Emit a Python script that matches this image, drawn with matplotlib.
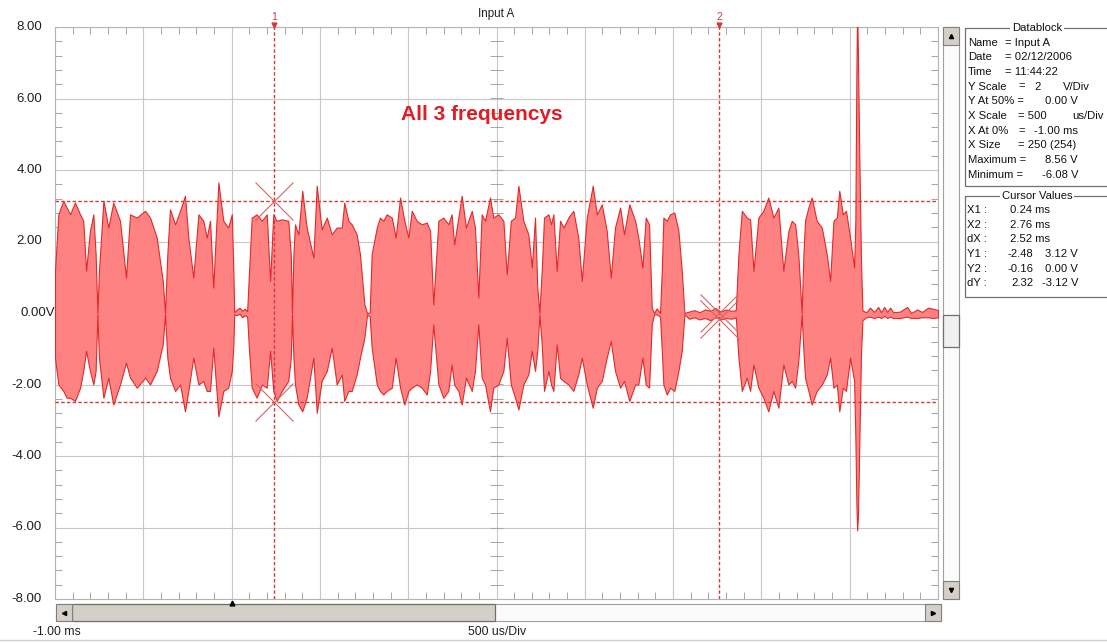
import matplotlib
matplotlib.use('Agg')
import matplotlib.pyplot as plt
from matplotlib.patches import Rectangle
from matplotlib.ticker import MultipleLocator
import numpy as np

plt.rcParams['font.family'] = ['Liberation Sans', 'DejaVu Sans']

# ── 파형 포락선 (ms, V) : 상단/하단 ─────────────────────────────
wave_t = [
    # burst 1
    -1.000, -0.981, -0.953, -0.934, -0.915, -0.887, -0.858, -0.840, -0.824, -0.802,
    -0.783, -0.770, -0.760, -0.751, -0.726, -0.698, -0.670, -0.632, -0.598, -0.575,
    -0.537, -0.490, -0.462, -0.424, -0.390, -0.377, -0.364, -0.349, -0.320, -0.292,
    -0.264, -0.245, -0.217, -0.188, -0.160, -0.141, -0.122, -0.104, -0.075, -0.047,
    -0.019, 0.001, 0.010, 0.015,
    # quiet 1
    0.030, 0.045, 0.060, 0.075, 0.088,
    # burst 2
    0.099, 0.114, 0.142, 0.171, 0.199, 0.218, 0.236, 0.255, 0.284, 0.321,
    0.335, 0.342, 0.350, 0.359, 0.378, 0.400, 0.425, 0.463, 0.482, 0.510,
    0.539, 0.567, 0.595, 0.624, 0.638, 0.661, 0.680, 0.708, 0.727, 0.752,
    0.767, 0.782, 0.793, 0.822, 0.840, 0.859, 0.878, 0.907, 0.929, 0.954,
    0.978, 1.001, 1.020, 1.048, 1.077, 1.105, 1.124, 1.142, 1.171, 1.199,
    # burst 3
    1.227, 1.246, 1.260, 1.284, 1.303, 1.327, 1.360, 1.378, 1.397, 1.416,
    1.435, 1.463, 1.482, 1.510, 1.539, 1.558, 1.581, 1.605, 1.624, 1.652,
    1.680, 1.700, 1.718, 1.731, 1.743, 1.756, 1.769, 1.794, 1.809, 1.822,
    1.841, 1.860, 1.879, 1.907, 1.935, 1.963, 1.983, 2.011, 2.045, 2.068,
    2.096, 2.124, 2.147, 2.171, 2.200, 2.222, 2.252, 2.285,
    # burst 4
    2.303, 2.326, 2.345, 2.364, 2.379, 2.392, 2.407, 2.426, 2.436, 2.445,
    2.464, 2.483, 2.507, 2.530, 2.549, 2.564,
    # quiet 2
    2.590, 2.620, 2.650, 2.680, 2.710, 2.740, 2.770, 2.800, 2.830, 2.855,
    # burst 5
    2.870, 2.889, 2.917, 2.936, 2.955, 2.983, 3.011, 3.039, 3.068, 3.096,
    3.124, 3.153, 3.172, 3.191, 3.209, 3.228, 3.238, 3.247, 3.266, 3.285,
    3.313, 3.342, 3.370, 3.389, 3.408,
    # burst 6 + spike
    3.427, 3.441, 3.461, 3.479, 3.502, 3.525, 3.532, 3.538, 3.542, 3.547,
    3.555, 3.564, 3.572,
    # tail
    3.594, 3.615, 3.638, 3.661, 3.678, 3.695, 3.712, 3.729, 3.746, 3.785,
    3.825, 3.848, 3.882, 3.910, 3.944, 3.972, 4.000,
]
wave_hi = [
    1.18, 2.76, 3.14, 2.95, 2.76, 3.09, 2.76, 2.58, 1.18, 2.30,
    2.76, 1.64, 0.00, 1.18, 3.14, 2.39, 3.09, 2.58, 0.99, 2.76,
    2.67, 2.86, 2.67, 2.11, 0.90, 0.00, 1.64, 2.90, 2.48, 2.86,
    3.28, 2.11, 0.99, 2.76, 2.58, 2.11, 2.58, 0.71, 3.65, 2.58,
    2.39, 2.76, 1.18, 0.02,
    0.10, 0.15, 0.06, 0.12, 0.05,
    1.18, 2.67, 2.76, 2.58, 2.76, 0.90, 2.76, 2.58, 2.62, 2.58,
    1.64, 0.00, 1.64, 2.48, 2.20, 3.42, 2.39, 1.55, 3.56, 2.34,
    2.67, 2.20, 2.39, 2.39, 3.09, 2.58, 2.48, 2.20, 1.64, 0.24,
    0.00, 0.02, 1.64, 2.39, 2.67, 2.58, 2.76, 2.67, 2.11, 3.23,
    2.58, 2.11, 2.86, 2.58, 2.48, 2.53, 2.30, 0.24, 2.58, 2.67,
    2.48, 2.76, 1.92, 2.67, 3.28, 2.39, 2.86, 2.39, 0.43, 2.76,
    2.58, 3.23, 2.67, 2.76, 2.58, 1.08, 2.58, 2.67, 3.56, 2.58,
    2.20, 1.27, 2.67, 0.71, 0.00, 1.18, 2.67, 2.76, 2.48, 2.76,
    1.18, 2.58, 2.39, 2.67, 2.86, 2.11, 0.90, 2.67, 3.56, 2.76,
    3.04, 2.30, 0.99, 2.39, 2.95, 2.20, 3.04, 2.58,
    2.11, 1.27, 2.67, 2.48, 0.15, 0.00, 0.13, 0.00, 1.18, 2.67,
    2.58, 2.76, 2.81, 2.30, 1.18, 0.00,
    0.04, 0.08, 0.02, 0.10, 0.06, 0.14, 0.04, 0.10, 0.06, 0.08,
    1.64, 2.86, 2.67, 2.62, 1.18, 2.67, 2.86, 3.23, 2.67, 2.95,
    1.18, 2.30, 2.58, 2.48, 1.64, 0.00, 1.64, 2.58, 2.95, 3.23,
    2.58, 2.39, 1.64, 0.90, 2.58,
    2.67, 3.42, 2.76, 2.86, 2.11, 1.27, 2.58, 6.78, 8.56, 7.06,
    4.17, 1.46, 0.07,
    0.02, 0.15, 0.03, 0.17, 0.02, 0.17, 0.03, 0.15, 0.02, 0.04,
    0.17, 0.00, 0.10, 0.03, 0.15, 0.12, 0.08,
]
wave_lo = [
    -1.25, -2.00, -2.18, -2.37, -2.37, -2.46, -2.09, -1.62, -1.06, -1.62,
    -2.00, -1.62, -0.04, -1.25, -2.37, -1.81, -2.56, -2.00, -1.39, -1.81,
    -2.09, -1.81, -2.00, -1.62, -0.88, -0.04, -1.25, -1.81, -2.18, -2.00,
    -2.75, -2.18, -1.25, -2.00, -1.90, -2.18, -2.18, -0.97, -2.89, -2.18,
    -2.09, -1.62, -0.88, -0.04,
    -0.06, -0.02, -0.12, -0.06, -0.10,
    -1.06, -2.09, -2.37, -2.00, -2.09, -1.06, -2.18, -2.46, -2.18, -1.90,
    -1.25, -0.04, -1.25, -2.00, -2.56, -2.75, -2.37, -1.25, -2.79, -1.90,
    -1.62, -0.97, -2.00, -1.72, -2.46, -2.18, -2.18, -1.72, -1.25, -0.69,
    -0.04, -0.10, -0.97, -2.00, -2.18, -2.28, -2.18, -2.09, -1.25, -2.09,
    -2.56, -2.18, -2.09, -2.00, -2.09, -2.28, -1.62, -0.32, -2.00, -2.37,
    -2.18, -1.44, -2.00, -2.18, -2.56, -1.81, -2.18, -1.62, -0.32, -1.81,
    -2.00, -2.75, -2.09, -2.00, -1.62, -0.69, -2.00, -2.37, -2.70, -2.00,
    -1.72, -1.06, -1.62, -1.06, -0.04, -0.88, -2.18, -1.62, -2.00, -2.18,
    -0.88, -1.81, -1.90, -2.00, -2.18, -1.72, -1.25, -2.00, -2.65, -2.09,
    -1.90, -1.25, -0.78, -1.62, -2.09, -1.90, -2.46, -2.00,
    -2.00, -1.25, -2.00, -2.09, -0.32, -0.04, -0.04, -0.10, -1.06, -2.00,
    -2.28, -2.09, -2.18, -1.62, -1.06, -0.04,
    -0.16, -0.12, -0.18, -0.14, -0.20, -0.12, -0.18, -0.14, -0.16, -0.12,
    -1.25, -2.18, -1.81, -2.18, -1.44, -2.09, -2.37, -2.75, -2.18, -2.65,
    -1.44, -2.00, -1.90, -2.09, -1.34, -0.04, -1.06, -1.81, -2.18, -2.56,
    -2.18, -2.00, -1.72, -1.25, -2.09,
    -2.00, -2.75, -2.09, -2.18, -1.25, -1.90, -3.49, -5.36, -6.08, -5.64,
    -3.49, -1.16, -0.20,
    -0.12, -0.10, -0.14, -0.10, -0.14, -0.08, -0.14, -0.10, -0.14, -0.14,
    -0.10, -0.14, -0.14, -0.12, -0.12, -0.14, -0.12,
]

# ── 커서 ─────────────────────────────────────────────────────────
cursor_x = [0.24, 2.76]          # ms
cursor_y = [3.12, -2.48]         # V
cross_pts = [(0.24, 3.12), (0.24, -2.48), (2.76, 0.00), (2.76, -0.16)]
trigger_t = 0.0

y_ticks = [8, 6, 4, 2, 0, -2, -4, -6, -8]
y_labels = ['8.00', '6.00', '4.00', '2.00', '0.00V', '-2.00', '-4.00', '-6.00', '-8.00']

db_rows = [('Name', '= Input A'), ('Date', '= 02/12/2006'), ('Time', '= 11:44:22')]
cv_x_rows = [('X1 :', '0.24 ms'), ('X2 :', '2.76 ms'), ('dX :', '2.52 ms')]
cv_y_rows = [('Y1 :', '-2.48', '3.12 V'), ('Y2 :', '-0.16', '0.00 V'), ('dY :', '2.32', '-3.12 V')]

assert len(wave_t) == len(wave_hi) == len(wave_lo)

W, H = 1107, 643
fig = plt.figure(figsize=(W / 100, H / 100), dpi=100, facecolor='white')

ui = fig.add_axes([0, 0, 1, 1], zorder=0)
ui.set_xlim(0, W)
ui.set_ylim(H, 0)
ui.axis('off')

PL, PR, PT, PB = 55, 938, 27, 599
ax = fig.add_axes([PL / W, 1 - PB / H, (PR - PL) / W, (PB - PT) / H], zorder=1)
ax.set_xlim(-1, 4)
ax.set_ylim(-8, 8)
ax.xaxis.set_major_locator(MultipleLocator(0.5))
ax.xaxis.set_minor_locator(MultipleLocator(0.1))
ax.yaxis.set_major_locator(MultipleLocator(2))
ax.yaxis.set_minor_locator(MultipleLocator(0.4))
ax.grid(which='major', color='#c8c8c8', lw=0.8, zorder=0)
ax.tick_params(which='both', direction='in', top=True, right=True,
               labelbottom=False, labelleft=False, color='#a8a8a8', width=0.75)
ax.tick_params(which='minor', length=5)
ax.tick_params(which='major', length=0)
for sp in ax.spines.values():
    sp.set_color('#b4b4b4')
    sp.set_linewidth(0.8)
ax.set_axisbelow(True)

# 중앙 세로축 눈금
ymin_ticks = np.arange(-8, 8.01, 0.4)
ax.hlines(ymin_ticks, 1.5 - 0.037, 1.5 + 0.037, color='#a8a8a8', lw=0.75, zorder=1)

# 파형
ax.fill_between(wave_t, wave_lo, wave_hi, facecolor='#ff8282',
                edgecolor='#e02a2a', lw=0.8, zorder=3)

# 커서
cur_col = '#d43a3a'
for cx in cursor_x:
    ax.axvline(cx, color=cur_col, lw=1.0, ls=(0, (2.5, 1.6)), zorder=4)
for cy in cursor_y:
    ax.axhline(cy, color=cur_col, lw=1.0, ls=(0, (2.5, 1.6)), zorder=4)
for px, py in cross_pts:
    ax.plot(px, py, 'x', ms=27, mew=0.8, color='#d86464', zorder=5)
for i, cx in enumerate(cursor_x):
    ax.annotate(str(i + 1), xy=(cx, 1), xycoords=('data', 'axes fraction'),
                xytext=(0, 7), textcoords='offset points', ha='center', va='center',
                color=cur_col, fontsize=7.5, annotation_clip=False)
    ax.plot(cx, 8.06, marker='v', ms=3.5, color=cur_col, clip_on=False, zorder=6)
ax.plot(trigger_t, -8.12, marker='^', ms=3.5, color='black', clip_on=False, zorder=6)

ax.text(1.418, 5.54, 'All 3 frequencys', color='#e31b23', fontsize=15,
        fontweight='bold', ha='center', va='center', zorder=6)

# 축 레이블
for v, lbl in zip(y_ticks, y_labels):
    off = 0 if lbl.endswith('V') else -9.4
    ax.annotate(lbl, xy=(0, v), xycoords=('axes fraction', 'data'),
                xytext=(off, 0), textcoords='offset points', ha='right', va='center',
                fontsize=9.5, color='#202020', annotation_clip=False)
ax.text(0.5, 1.012, 'Input A', transform=ax.transAxes, ha='center', va='bottom',
        fontsize=8.4, color='#202020')

ui.text(33, 632, '-1.00 ms', ha='left', va='center', fontsize=8.8, color='#202020')
ui.text(497, 632, '500 us/Div', ha='center', va='center', fontsize=8.8, color='#202020')

# ── 스크롤바 ─────────────────────────────────────────────────────
face = '#d4d0c8'
edge = '#808080'


def button(x, y, w, h, mk):
    ui.add_patch(Rectangle((x, y), w, h, facecolor=face, edgecolor=edge, lw=0.8))
    ui.plot(x + w / 2, y + h / 2, marker=mk, ms=3, color='black')


ui.add_patch(Rectangle((56, 604), 885, 17, facecolor='#fbfbfb', edgecolor='#a0a0a0', lw=0.8))
ui.add_patch(Rectangle((72, 604), 423, 17, facecolor=face, edgecolor='#707070', lw=0.9))
button(56, 604, 16, 17, '<')
button(925, 604, 16, 17, '>')

ui.add_patch(Rectangle((943, 27), 16, 572, facecolor='#fbfbfb', edgecolor='#a0a0a0', lw=0.8))
ui.add_patch(Rectangle((943, 315), 16, 32, facecolor='#f0f0f0', edgecolor='#707070', lw=0.9))
button(943, 27, 16, 18, '^')
button(943, 581, 16, 18, 'v')

ui.plot([0, W], [640, 640], color='#d0d0d0', lw=1.0)

# ── Datablock / Cursor Values 패널 ───────────────────────────────
fs = 8.1
tc = '#101010'
ui.add_patch(Rectangle((965, 28), 160, 158, facecolor='none', edgecolor='#707070', lw=0.9))
ui.add_patch(Rectangle((965, 196), 160, 101, facecolor='none', edgecolor='#707070', lw=0.9))
for ty, title in [(28, 'Datablock'), (196, 'Cursor Values')]:
    ui.text(1037, ty, title, ha='center', va='center', fontsize=fs, color=tc,
            bbox=dict(facecolor='white', edgecolor='none', pad=1.2))

row_h = 14.7
y0 = 42.5
for i, (k, v) in enumerate(db_rows):
    ui.text(968, y0 + i * row_h, k, va='center', fontsize=fs, color=tc)
    ui.text(1005, y0 + i * row_h, v, va='center', fontsize=fs, color=tc)

y = y0 + 3 * row_h
ui.text(968, y, 'Y Scale', va='center', fontsize=fs, color=tc)
ui.text(1018, y, '=', va='center', fontsize=fs, color=tc)
ui.text(1034, y, '2', va='center', fontsize=fs, color=tc)
ui.text(1063, y, 'V/Div', va='center', fontsize=fs, color=tc)
y = y0 + 4 * row_h
ui.text(968, y, 'Y At 50% =', va='center', fontsize=fs, color=tc)
ui.text(1078, y, '0.00 V', va='center', ha='right', fontsize=fs, color=tc)
y = y0 + 5 * row_h
ui.text(968, y, 'X Scale', va='center', fontsize=fs, color=tc)
ui.text(1018, y, '= 500', va='center', fontsize=fs, color=tc)
ui.text(1104, y, 'us/Div', va='center', ha='right', fontsize=fs, color=tc)
y = y0 + 6 * row_h
ui.text(968, y, 'X At 0%', va='center', fontsize=fs, color=tc)
ui.text(1018, y, '=', va='center', fontsize=fs, color=tc)
ui.text(1078, y, '-1.00 ms', va='center', ha='right', fontsize=fs, color=tc)
y = y0 + 7 * row_h
ui.text(968, y, 'X Size', va='center', fontsize=fs, color=tc)
ui.text(1018, y, '= 250 (254)', va='center', fontsize=fs, color=tc)
y = y0 + 8 * row_h
ui.text(968, y, 'Maximum =', va='center', fontsize=fs, color=tc)
ui.text(1078, y, '8.56 V', va='center', ha='right', fontsize=fs, color=tc)
y = y0 + 9 * row_h
ui.text(968, y, 'Minimum =', va='center', fontsize=fs, color=tc)
ui.text(1078, y, '-6.08 V', va='center', ha='right', fontsize=fs, color=tc)

y1 = 210
for i, (k, v) in enumerate(cv_x_rows):
    ui.text(967, y1 + i * row_h, k, va='center', fontsize=fs, color=tc)
    ui.text(1010, y1 + i * row_h, v, va='center', fontsize=fs, color=tc)
for i, (k, a, b) in enumerate(cv_y_rows):
    yy = y1 + (i + 3) * row_h
    ui.text(967, yy, k, va='center', fontsize=fs, color=tc)
    ui.text(1033, yy, a, va='center', ha='right', fontsize=fs, color=tc)
    ui.text(1078, yy, b, va='center', ha='right', fontsize=fs, color=tc)

fig.savefig('out.png', dpi=100, facecolor='white')
